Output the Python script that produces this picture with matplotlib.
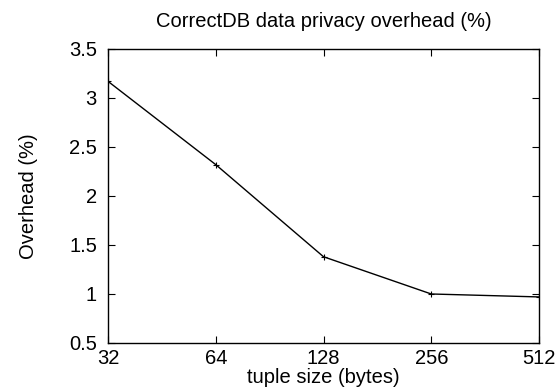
import matplotlib
matplotlib.use("Agg")
import matplotlib.pyplot as plt

plt.rcParams['font.family'] = ['Liberation Sans', 'DejaVu Sans']

# tuple sizes and measured overhead
tuple_size = [32, 64, 128, 256, 512]
overhead = [3.17, 2.32, 1.38, 1.00, 0.97]
y_ticks = [0.5, 1, 1.5, 2, 2.5, 3, 3.5]
y_labels = ["0.5", "1", "1.5", "2", "2.5", "3", "3.5"]

fig = plt.figure(figsize=(5.55, 3.91), dpi=100)
ax = fig.add_axes([0.1946, 0.1228, 0.7766, 0.7519])

ax.plot(tuple_size, overhead, color="black", linewidth=1.0,
        marker="+", markersize=5, markeredgewidth=0.8)

ax.set_xscale("log", base=2)
ax.set_xlim(32, 512)
ax.set_xticks(tuple_size)
ax.set_xticklabels([str(t) for t in tuple_size])
ax.minorticks_off()
ax.set_ylim(0.5, 3.5)
ax.set_yticks(y_ticks)
ax.set_yticklabels(y_labels)

fs = 14.5
ax.tick_params(direction="in", length=5, width=0.8, labelsize=fs,
               top=True, right=True)
ax.tick_params(axis="y", pad=8)
ax.tick_params(axis="x", pad=4)
for s in ax.spines.values():
    s.set_linewidth(1.0)

ax.set_title("CorrectDB data privacy overhead (%)", fontsize=fs, pad=16)
ax.set_xlabel("tuple size (bytes)", fontsize=fs, labelpad=0.5)
ax.set_ylabel("Overhead (%)", fontsize=fs, labelpad=22)

fig.savefig("out.png", dpi=100)
